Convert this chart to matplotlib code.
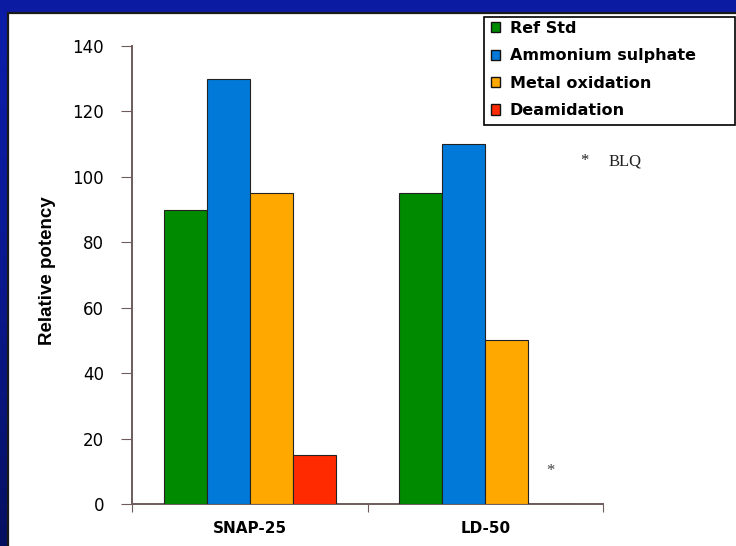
import numpy as np
import matplotlib
matplotlib.use("Agg")
import matplotlib.pyplot as plt
from matplotlib.patches import Rectangle
from matplotlib.colors import LinearSegmentedColormap

# potency data per assay
assays = ["SNAP-25", "LD-50"]
series = ["Ref Std", "Ammonium sulphate", "Metal oxidation", "Deamidation"]
ref_std = [90, 95]
ammonium = [130, 110]
metal_ox = [95, 50]
deamid = [15, 0]          # LD-50 deamidation below limit of quantitation
colors = ["#008a00", "#0079d8", "#ffa800", "#ff2a00"]

W, H = 736, 546
fig = plt.figure(figsize=(W / 100, H / 100), dpi=100)
fig.patch.set_facecolor("#0b1ca2")

# slide background: left strip fades blue -> navy, white panel on top
bg = fig.add_axes([0, 0, 1, 1], zorder=-10)
bg.set_axis_off()
grad = np.linspace(0, 1, 256).reshape(-1, 1) ** 1.5
cm = LinearSegmentedColormap.from_list("slide", ["#0c1da8", "#061060"])
bg.imshow(grad, aspect="auto", cmap=cm, extent=[0, 1, 1, 0])
bg.set_xlim(0, 1)
bg.set_ylim(1, 0)
bg.add_patch(Rectangle((0, 0), 1, 12 / H, color="#0b1ca2", zorder=1))
bg.add_patch(Rectangle((8 / W, 13 / H), 1, 1, facecolor="white",
                       edgecolor="#1a1a1a", linewidth=1.6, zorder=2))
# legend frame
bg.add_patch(Rectangle((484 / W, 17 / H), 251 / W, 108 / H, facecolor="white",
                       edgecolor="black", linewidth=1.2, zorder=3))

ax = fig.add_axes([132 / W, 42 / H, (603 - 132) / W, (504 - 46) / H])
ax.set_facecolor("none")

x = np.arange(1, len(assays) + 1)
bw = 0.183
values = [ref_std, ammonium, metal_ox, deamid]
for i, (name, vals, c) in enumerate(zip(series, values, colors)):
    ax.bar(x + (i - 1.5) * bw, vals, bw, color=c, edgecolor="#222222",
           linewidth=0.8, label=name, zorder=3)

ax.set_xlim(0.5, 2.5)
ax.set_ylim(0, 140)
ax.set_yticks(range(0, 141, 20))
ax.tick_params(axis="y", labelsize=12, length=8, color="#6e5c5c", pad=12)
for lab in ax.get_yticklabels():
    lab.set_family("DejaVu Sans")

# category boundaries as ticks, labels centred between them
ax.set_xticks([0.5, 1.5, 2.5])
ax.set_xticklabels([])
ax.tick_params(axis="x", which="major", length=6, color="#6e5c5c")
ax.set_xticks(x, assays, minor=True)
ax.tick_params(axis="x", which="minor", length=0, pad=12)
for lab in ax.get_xticklabels(minor=True):
    lab.set_fontsize(11)
    lab.set_fontweight("bold")
    lab.set_family("DejaVu Sans")

for s in ["top", "right"]:
    ax.spines[s].set_visible(False)
for s in ["left", "bottom"]:
    ax.spines[s].set_color("#6e5c5c")
    ax.spines[s].set_linewidth(1.4)

fig.text(47 / W, 1 - 271 / H, "Relative potency", rotation=90,
         ha="center", va="center", fontsize=13.5, fontweight="bold",
         family="Liberation Sans")

# BLQ marker where the LD-50 deamidation bar would be
ax.text(x[1] + 1.5 * bw, 10, "*", ha="center", va="center",
        fontsize=12, color="#444444", family="Liberation Serif")
fig.text(580 / W, 1 - 161 / H, "*", ha="left", va="center",
         fontsize=12, color="#222222", family="Liberation Serif")
fig.text(609 / W, 1 - 161 / H, "BLQ", ha="left", va="center",
         fontsize=12, color="#222222", family="Liberation Serif")

handles = [Rectangle((0, 0), 1, 1, facecolor=c, edgecolor="#111111", linewidth=1)
           for c in colors]
leg = fig.legend(handles, series, loc="upper left",
                 bbox_to_anchor=(486 / W, 1 - 16 / H),
                 prop={"family": "DejaVu Sans", "weight": "bold", "size": 11.5},
                 handlelength=0.6, handleheight=0.6, handletextpad=0.6,
                 labelspacing=0.78, borderpad=0.3, borderaxespad=0,
                 frameon=False)

fig.savefig("out.png", dpi=100, facecolor=fig.get_facecolor())
